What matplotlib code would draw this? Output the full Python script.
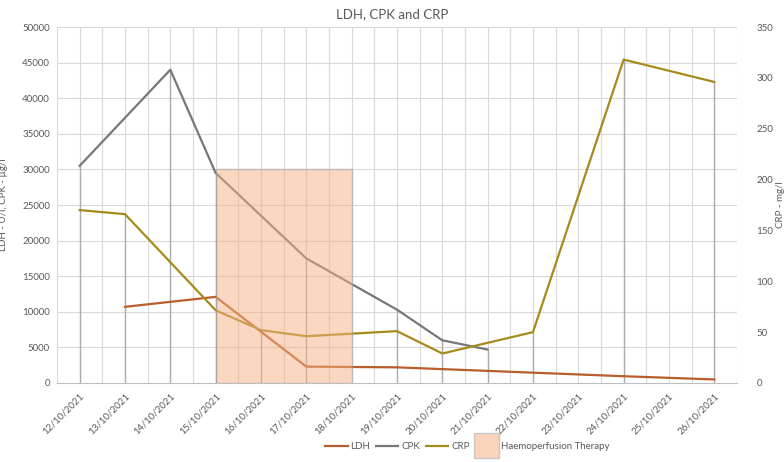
import datetime as dt
import numpy as np
import matplotlib

matplotlib.use("Agg")
import matplotlib.pyplot as plt
import matplotlib.dates as mdates
import matplotlib.patches as mpatches
from matplotlib.legend_handler import HandlerPatch
from matplotlib.lines import Line2D

plt.rcParams["font.family"] = ["Lato", "DejaVu Sans"]

# days of October 2021
days = [12, 13, 14, 15, 16, 17, 18, 19, 20, 21, 22, 23, 24, 25, 26]
ldh = [None, 10700, None, 12100, None, 2300, None, 2200, None, None, 1450, None, 950, None, 500]
cpk = [30500, None, 44000, 29500, None, 17500, None, 10300, 6000, 4700, None, None, None, None, None]
crp = [170, 166, None, 71.5, 52, 46, None, 51, 29, None, 50, None, 318, None, 296]

therapy_start = 15
therapy_end = 18
therapy_top = 30000

LEFT_MAX = 50000
RIGHT_MAX = 350

GRID = "#d9d9d9"
TXT = "#595959"
C_LDH = "#b95e2a"
C_CPK = "#777777"
C_CRP = "#a68b1c"
C_BOX = "#f4b183"


def to_date(d):
    return dt.datetime(2021, 10, d)


def series(vals):
    xs = [mdates.date2num(to_date(d)) for d, v in zip(days, vals) if v is not None]
    ys = [v for v in vals if v is not None]
    return xs, ys


fig = plt.figure(figsize=(7.84, 4.62), dpi=100)
ax = fig.add_axes([0.0727, 0.171, 0.8673, 0.7705])
ax2 = ax.twinx()

x_all = [mdates.date2num(to_date(d)) for d in days]
half = 0.5
ax.set_xlim(x_all[0] - half, x_all[-1] + half)
ax.set_ylim(0, LEFT_MAX)
ax2.set_ylim(0, RIGHT_MAX)

# gridlines every half day and every 5000
vgrid = np.arange(x_all[0] - half, x_all[-1] + half + 0.01, half)
for xv in vgrid:
    ax.axvline(xv, color=GRID, lw=0.8, zorder=0)
for yv in np.arange(5000, LEFT_MAX + 1, 5000):
    ax.axhline(yv, color=GRID, lw=0.8, zorder=0)

# drop lines to the highest point of each date
scale = LEFT_MAX / RIGHT_MAX
for i, d in enumerate(days):
    vals = [v for v in (ldh[i], cpk[i]) if v is not None]
    if crp[i] is not None:
        vals.append(crp[i] * scale)
    if vals:
        ax.vlines(x_all[i], 0, max(vals), color="#ababab", lw=1.0, zorder=1)

xs, ys = series(ldh)
ax.plot(xs, ys, color=C_LDH, lw=1.6, zorder=3)
xs, ys = series(cpk)
ax.plot(xs, ys, color=C_CPK, lw=1.6, zorder=3)
xs, ys = series(crp)
ax2.plot(xs, ys, color=C_CRP, lw=1.6, zorder=3)

# therapy box (drawn on the right axis so it sits over every line)
bx0 = mdates.date2num(to_date(therapy_start))
bx1 = mdates.date2num(to_date(therapy_end))
ax2.add_patch(mpatches.Rectangle((bx0, 0), bx1 - bx0, therapy_top / scale,
                                 facecolor=C_BOX, edgecolor="#a0a0a0", lw=1.0,
                                 alpha=0.5, zorder=4))

for a in (ax, ax2):
    for s in a.spines.values():
        s.set_visible(False)
ax.spines["bottom"].set_visible(True)
ax.spines["bottom"].set_color("#bfbfbf")

ax.set_xticks(x_all)
ax.set_xticklabels([to_date(d).strftime("%d/%m/%Y") for d in days],
                   rotation=45, ha="right", va="top", rotation_mode="anchor")
ax.tick_params(axis="x", length=0, pad=6, labelsize=7, labelcolor=TXT)
ax.set_yticks(np.arange(0, LEFT_MAX + 1, 5000))
ax.tick_params(axis="y", length=0, pad=5, labelsize=7, labelcolor=TXT)
ax2.set_yticks(np.arange(0, RIGHT_MAX + 1, 50))
ax2.tick_params(axis="y", length=0, pad=14, labelsize=7, labelcolor=TXT)

ax.set_ylabel("LDH - U/l, CPK - µg/l", fontsize=7, color=TXT)
ax.yaxis.set_label_coords(-0.072, 0.5)
ax2.set_ylabel("CRP - mg/l", fontsize=7, color=TXT, rotation=90)
ax2.yaxis.set_label_coords(1.057, 0.5)

fig.text(0.5, 0.982, "LDH, CPK and CRP", ha="center", va="top", fontsize=9.5, color=TXT)


def big_square(legend, orig_handle, xdescent, ydescent, width, height, fontsize):
    s = 3.7 * height
    return mpatches.Rectangle((-xdescent + (width - s) / 2, -ydescent + (height - s) / 2), s, s)


handles = [
    Line2D([], [], color=C_LDH, lw=1.6),
    Line2D([], [], color=C_CPK, lw=1.6),
    Line2D([], [], color=C_CRP, lw=1.6),
    mpatches.Patch(facecolor="#fad3bb", edgecolor="#c8c8c8", lw=1.0),
]
labels = ["LDH", "CPK", "CRP", "Haemoperfusion Therapy"]
leg = fig.legend(handles, labels, loc="center", bbox_to_anchor=(0.596, 0.033), ncol=4,
                 frameon=False, fontsize=7, handlelength=2.3, handletextpad=0.3,
                 columnspacing=0.6, labelcolor=TXT,
                 handler_map={mpatches.Patch: HandlerPatch(patch_func=big_square)})

fig.savefig("out.png", dpi=100)
